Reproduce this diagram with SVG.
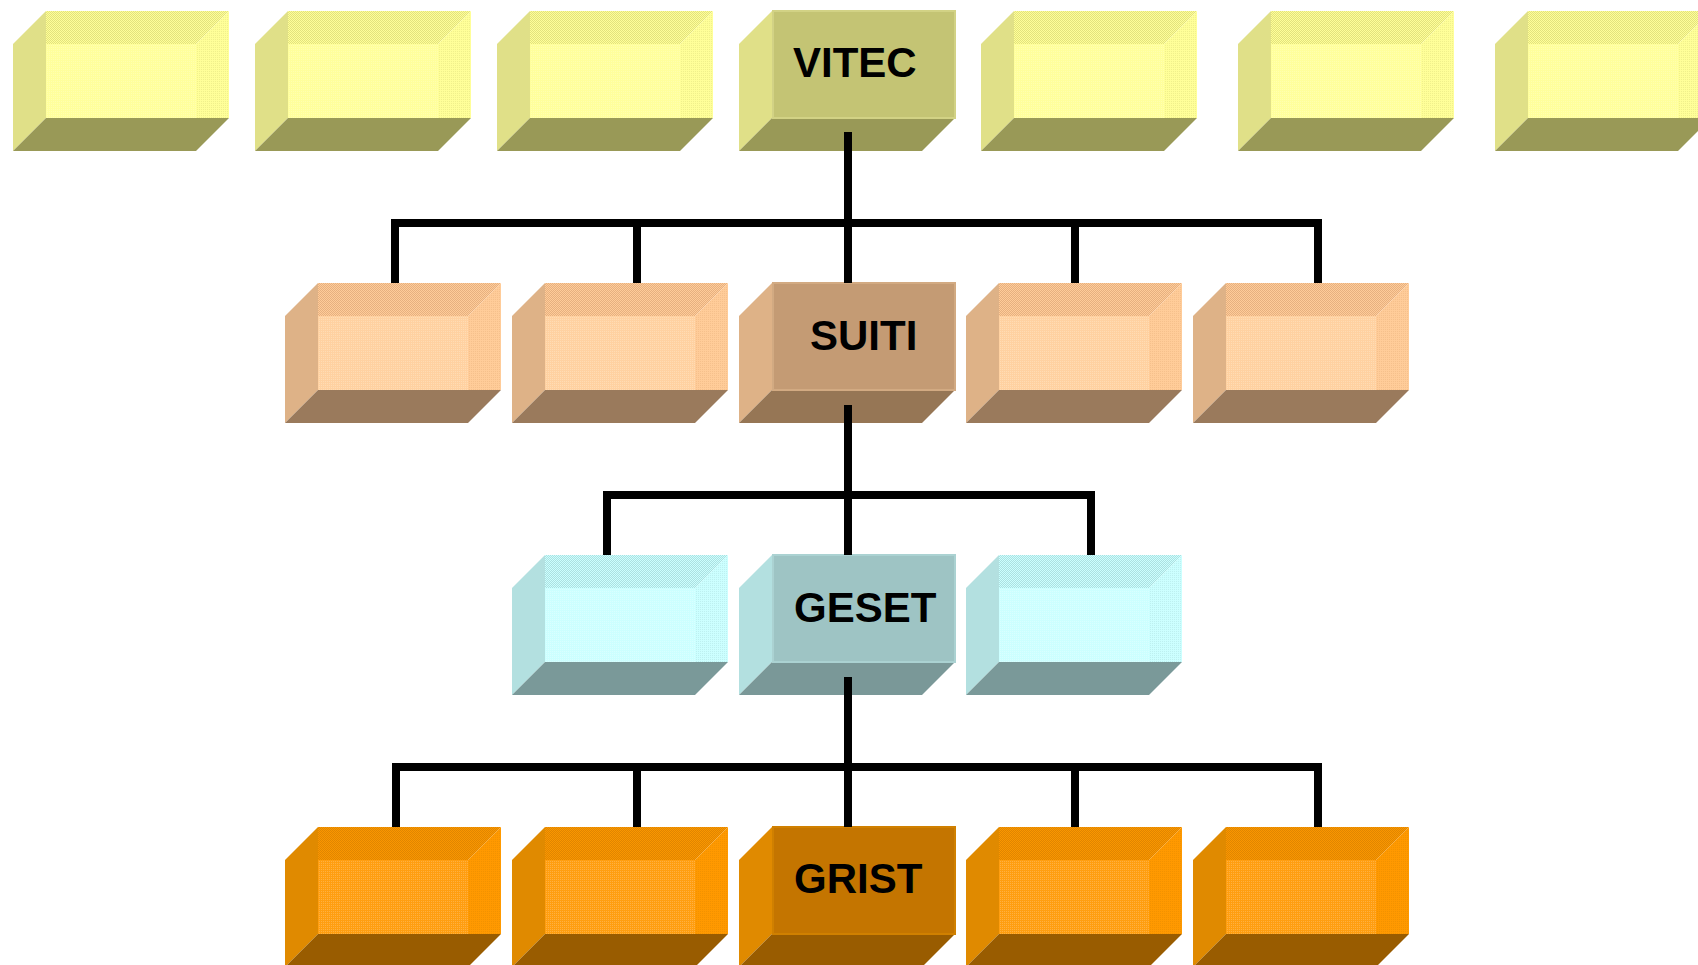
<svg xmlns="http://www.w3.org/2000/svg" xmlns:xlink="http://www.w3.org/1999/xlink" width="1698" height="965" viewBox="0 0 1698 965">
<style>
.lbl{font-family:"Liberation Sans",Arial,sans-serif;font-weight:bold;font-size:42px;fill:#000}
.con{fill:none;stroke:#000;stroke-width:8;stroke-linecap:butt;stroke-linejoin:miter}
</style>
<defs>
<pattern id="pYt" width="2" height="2" patternUnits="userSpaceOnUse"><rect width="2" height="2" fill="#FFFF99"/><rect width="1" height="1" fill="#E2E27E"/><rect x="1" y="1" width="1" height="1" fill="#E2E27E"/></pattern>
<pattern id="pYr" width="2" height="2" patternUnits="userSpaceOnUse"><rect width="2" height="2" fill="#FFFF99"/><rect width="1" height="1" fill="#F0F08C"/></pattern>
<pattern id="pYi" width="2" height="2" patternUnits="userSpaceOnUse"><rect width="2" height="2" fill="#FFFF9C"/><rect width="1" height="1" fill="#FFFFB0"/></pattern>
<pattern id="pPt" width="2" height="2" patternUnits="userSpaceOnUse"><rect width="2" height="2" fill="#FFCC99"/><rect width="1" height="1" fill="#E6B080"/><rect x="1" y="1" width="1" height="1" fill="#E6B080"/></pattern>
<pattern id="pPr" width="2" height="2" patternUnits="userSpaceOnUse"><rect width="2" height="2" fill="#FFCC99"/><rect width="1" height="1" fill="#F5C08C"/></pattern>
<pattern id="pPi" width="2" height="2" patternUnits="userSpaceOnUse"><rect width="2" height="2" fill="#FFD1A1"/><rect width="1" height="1" fill="#FFDCB4"/></pattern>
<pattern id="pCt" width="2" height="2" patternUnits="userSpaceOnUse"><rect width="2" height="2" fill="#CCFFFF"/><rect width="1" height="1" fill="#ADE0E0"/><rect x="1" y="1" width="1" height="1" fill="#ADE0E0"/></pattern>
<pattern id="pCr" width="2" height="2" patternUnits="userSpaceOnUse"><rect width="2" height="2" fill="#CCFFFF"/><rect width="1" height="1" fill="#BDF0F0"/></pattern>
<pattern id="pCi" width="2" height="2" patternUnits="userSpaceOnUse"><rect width="2" height="2" fill="#CCFFFF"/><rect width="1" height="1" fill="#DAFFFF"/></pattern>
<pattern id="pOt" width="2" height="2" patternUnits="userSpaceOnUse"><rect width="2" height="2" fill="#FA9600"/><rect width="1" height="1" fill="#E08600"/><rect x="1" y="1" width="1" height="1" fill="#E08600"/></pattern>
<pattern id="pOr" width="2" height="2" patternUnits="userSpaceOnUse"><rect width="2" height="2" fill="#FF9900"/><rect width="1" height="1" fill="#F29200"/></pattern>
<pattern id="pOi" width="2" height="2" patternUnits="userSpaceOnUse"><rect width="2" height="2" fill="#FF9E10"/><rect width="1" height="1" fill="#FFB040"/></pattern>

<g id="boxY">
<polygon points="0,33 33,0 33,107 0,140" fill="#E0E088"/>
<polygon points="0,140 33,107 216,107 183,140" fill="#999957"/>
<rect x="33" y="33" width="150" height="74" fill="url(#pYi)"/>
<polygon points="33,0 216,0 183,33 33,33" fill="url(#pYt)"/>
<polygon points="216,0 216,107 183,107 183,33" fill="url(#pYr)"/>
</g>
<g id="boxYh">
<polygon points="0,33 33,0 33,107 0,140" fill="#E0E088"/>
<polygon points="0,140 33,107 216,107 183,140" fill="#999957"/>
<rect x="34" y="0" width="182" height="107" fill="#C4C474" stroke="#D2D285" stroke-width="2"/>
</g>
<g id="boxP">
<polygon points="0,33 33,0 33,107 0,140" fill="#DEB287"/>
<polygon points="0,140 33,107 216,107 183,140" fill="#9A7A5C"/>
<rect x="33" y="33" width="150" height="74" fill="url(#pPi)"/>
<polygon points="33,0 216,0 183,33 33,33" fill="url(#pPt)"/>
<polygon points="216,0 216,107 183,107 183,33" fill="url(#pPr)"/>
</g>
<g id="boxPh">
<polygon points="0,33 33,0 33,107 0,140" fill="#DEB287"/>
<polygon points="0,140 33,107 216,107 183,140" fill="#967655"/>
<rect x="34" y="0" width="182" height="107" fill="#C49B74" stroke="#D2AA82" stroke-width="2"/>
</g>
<g id="boxC">
<polygon points="0,33 33,0 33,107 0,140" fill="#B3E0E0"/>
<polygon points="0,140 33,107 216,107 183,140" fill="#7A9999"/>
<rect x="33" y="33" width="150" height="74" fill="url(#pCi)"/>
<polygon points="33,0 216,0 183,33 33,33" fill="url(#pCt)"/>
<polygon points="216,0 216,107 183,107 183,33" fill="url(#pCr)"/>
</g>
<g id="boxCh">
<polygon points="0,33 33,0 33,107 0,140" fill="#B3E0E0"/>
<polygon points="0,140 33,107 216,107 183,140" fill="#7A9898"/>
<rect x="34" y="0" width="182" height="107" fill="#9EC4C4" stroke="#ABD2D2" stroke-width="2"/>
</g>
<g id="boxO">
<polygon points="0,33 33,0 33,107 0,140" fill="#E08A00"/>
<polygon points="0,140 33,107 216,107 183,140" fill="#995C00"/>
<rect x="33" y="33" width="150" height="74" fill="url(#pOi)"/>
<polygon points="33,0 216,0 183,33 33,33" fill="url(#pOt)"/>
<polygon points="216,0 216,107 183,107 183,33" fill="url(#pOr)"/>
</g>
<g id="boxOh">
<polygon points="0,33 33,0 33,107 0,140" fill="#E08A00"/>
<polygon points="0,140 33,107 216,107 183,140" fill="#995C00"/>
<rect x="34" y="0" width="182" height="107" fill="#C47500" stroke="#D08000" stroke-width="2"/>
</g>
</defs>

<rect width="1698" height="965" fill="#FFFFFF"/>

<g id="row1">
<g id="y1"><use xlink:href="#boxY" x="13" y="11"/></g>
<g id="y2"><use xlink:href="#boxY" x="255" y="11"/></g>
<g id="y3"><use xlink:href="#boxY" x="497" y="11"/></g>
<g id="vitec"><use xlink:href="#boxYh" x="739" y="11"/><text class="lbl" x="793" y="77">VITEC</text></g>
<g id="y5"><use xlink:href="#boxY" x="981" y="11"/></g>
<g id="y6"><use xlink:href="#boxY" x="1238" y="11"/></g>
<g id="y7"><use xlink:href="#boxY" x="1495" y="11"/></g>
</g>

<g id="row2">
<g id="p1"><use xlink:href="#boxP" x="285" y="283"/></g>
<g id="p2"><use xlink:href="#boxP" x="512" y="283"/></g>
<g id="suiti"><use xlink:href="#boxPh" x="739" y="283"/><text class="lbl" x="810" y="350">SUITI</text></g>
<g id="p4"><use xlink:href="#boxP" x="966" y="283"/></g>
<g id="p5"><use xlink:href="#boxP" x="1193" y="283"/></g>
</g>

<g id="row3">
<g id="c1"><use xlink:href="#boxC" x="512" y="555"/></g>
<g id="geset"><use xlink:href="#boxCh" x="739" y="555"/><text class="lbl" x="794" y="622">GESET</text></g>
<g id="c3"><use xlink:href="#boxC" x="966" y="555"/></g>
</g>

<g id="row4">
<g id="o1"><use xlink:href="#boxO" x="285" y="827"/></g>
<g id="o2"><use xlink:href="#boxO" x="512" y="827"/></g>
<g id="grist"><use xlink:href="#boxOh" x="739" y="827"/><text class="lbl" x="794" y="893">GRIST</text></g>
<g id="o4"><use xlink:href="#boxO" x="966" y="827"/></g>
<g id="o5"><use xlink:href="#boxO" x="1193" y="827"/></g>
</g>

<g id="connectors">
<path class="con" d="M848 132 V283 M391 223 H1322 M395 223 V283 M637 223 V283 M1075 223 V283 M1318 223 V283"/>
<path class="con" d="M848 405 V555 M603 495 H1095 M607 495 V555 M1091 495 V555"/>
<path class="con" d="M848 677 V827 M392 767 H1322 M396 767 V827 M637 767 V827 M1075 767 V827 M1318 767 V827"/>
</g>
</svg>
